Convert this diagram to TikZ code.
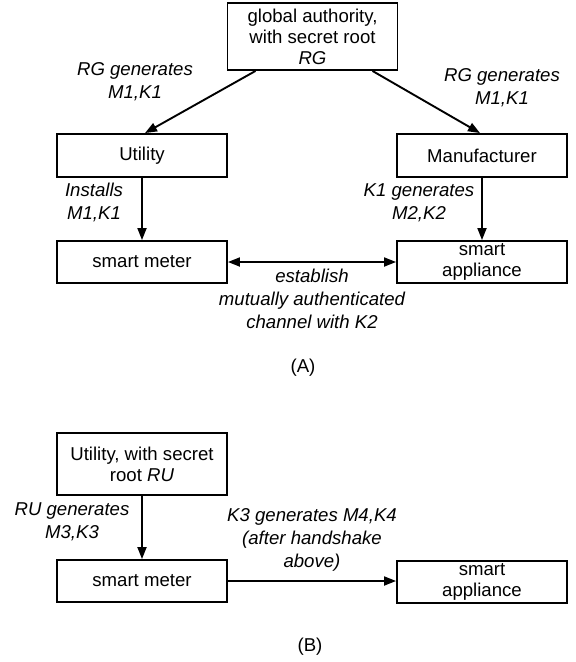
\documentclass[tikz,border=0pt]{standalone}
\usepackage{fontspec}
\setmainfont{Liberation Sans}
\usetikzlibrary{arrows.meta}
\begin{document}
\begin{tikzpicture}[x=1pt,y=-1pt,
  box/.style={draw,line width=1.9pt,minimum width=170pt,minimum height=42pt,inner sep=0pt,align=center,font=\fontsize{18.6}{21}\selectfont},
  lbl/.style={align=center,inner sep=0pt,font=\fontsize{18.6}{23}\selectfont\itshape},
  arr/.style={line width=1.9pt,-{Triangle[length=12pt,width=9pt]}},
  darr/.style={line width=1.9pt,{Triangle[length=12pt,width=9pt]}-{Triangle[length=12pt,width=9pt]}}]
\useasboundingbox (0,0) rectangle (576,662);
% part A
\node[box,minimum height=67pt] (ga) at (312.5,36.5) {global authority,\\with secret root\\\textit{RG}};
\node[box,minimum height=43pt] (util) at (142,155.5) {Utility};
\node[box,minimum height=43pt] (manuf) at (482,155.5) {Manufacturer};
\node[box] (meterA) at (142,262) {smart meter};
\node[box] (applA) at (482,262) {smart\\appliance};
\draw[arr] ([xshift=-57pt]ga.south) -- ([xshift=3pt]util.north);
\draw[arr] ([xshift=60pt]ga.south) -- ([xshift=-2pt]manuf.north);
\draw[arr] (util.south) -- (meterA.north);
\draw[arr] (manuf.south) -- (applA.north);
\draw[darr] (meterA.east) -- (applA.west);
\node[lbl] (l1) at (135,82) {RG generates\\M1,K1};
\node[lbl] (l2) at (502,88) {RG generates\\M1,K1};
\node[lbl] (l3) at (94,202) {Installs\\M1,K1};
\node[lbl] (l4) at (419,203) {K1 generates\\M2,K2};
\node[lbl] (l5) at (312,299) {establish\\mutually authenticated\\channel with K2};
\node[font=\fontsize{18.6}{21}\selectfont] (capA) at (303,368) {(A)};
% part B
\node[box,minimum height=62pt] (utilB) at (142,464) {Utility, with secret\\root \textit{RU}};
\node[box] (meterB) at (142,581) {smart meter};
\node[box] (applB) at (482,582) {smart\\appliance};
\draw[arr] (utilB.south) -- (meterB.north);
\draw[arr] (meterB.east) -- (meterB.east -| applB.west);
\node[lbl] (l6) at (72,522) {RU generates\\M3,K3};
\node[lbl] (l7) at (312,540) {K3 generates M4,K4\\(after handshake\\above)};
\node[font=\fontsize{18.6}{21}\selectfont] (capB) at (310,647) {(B)};
\end{tikzpicture}
\end{document}
